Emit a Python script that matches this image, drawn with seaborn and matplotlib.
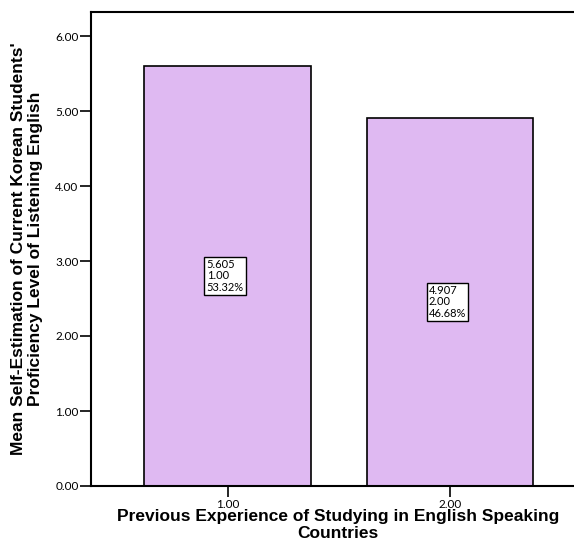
#!/usr/bin/env python3

import pandas as pd
import matplotlib
matplotlib.use("Agg")
import matplotlib.pyplot as plt
import seaborn as sns

sns.set_style("white")
plt.rcParams["text.color"] = "black"
plt.rcParams["axes.labelcolor"] = "black"
plt.rcParams["xtick.color"] = "black"
plt.rcParams["ytick.color"] = "black"

groups = ["1.00", "2.00"]
means = [5.605, 4.907]
box_codes = ["1.00", "2.00"]
percents = ["53.32%", "46.68%"]
yticks = [0, 1, 2, 3, 4, 5, 6]

df = pd.DataFrame({"group": groups, "mean": means})

fig = plt.figure(figsize=(5.74, 5.52), dpi=100)
ax = fig.add_axes([91 / 574, 66 / 552, 1 - 91 / 574 + 0.02, (486 - 12) / 552])

sns.barplot(x="group", y="mean", data=df, color="#DFB9F2", saturation=1,
            width=0.75, edgecolor="black", linewidth=1.2, ax=ax)

# value boxes in the middle of each bar
for i, m in enumerate(means):
    ax.text(i - 0.095, m / 2, f"{m:.3f}\n{box_codes[i]}\n{percents[i]}",
            ha="left", va="center", fontsize=8, family="Lato", linespacing=1.05,
            bbox=dict(boxstyle="square,pad=0.2", fc="white", ec="black", lw=1))

ax.set_xlim(-0.615, 1.61)
ax.set_ylim(0, 6.32)
ax.set_yticks(yticks)
ax.set_yticklabels([f"{v:.2f}" for v in yticks])
for lab in ax.get_xticklabels() + ax.get_yticklabels():
    lab.set_family("Lato")
    lab.set_fontsize(8.5)
ax.tick_params(axis="both", direction="out", length=8, width=1.2, pad=1,
               left=True, bottom=True)

for s in ax.spines.values():
    s.set_color("black")
    s.set_linewidth(1.5)

ax.set_xlabel("Previous Experience of Studying in English Speaking\nCountries",
              fontsize=12.5, fontweight="bold", family="Liberation Sans",
              labelpad=0, linespacing=1.15)
ax.set_ylabel("Mean Self-Estimation of Current Korean Students'\nProficiency Level of Listening English",
              fontsize=12.5, fontweight="bold", family="Liberation Sans",
              labelpad=9, linespacing=1.15)

fig.savefig("out.png", dpi=100)
